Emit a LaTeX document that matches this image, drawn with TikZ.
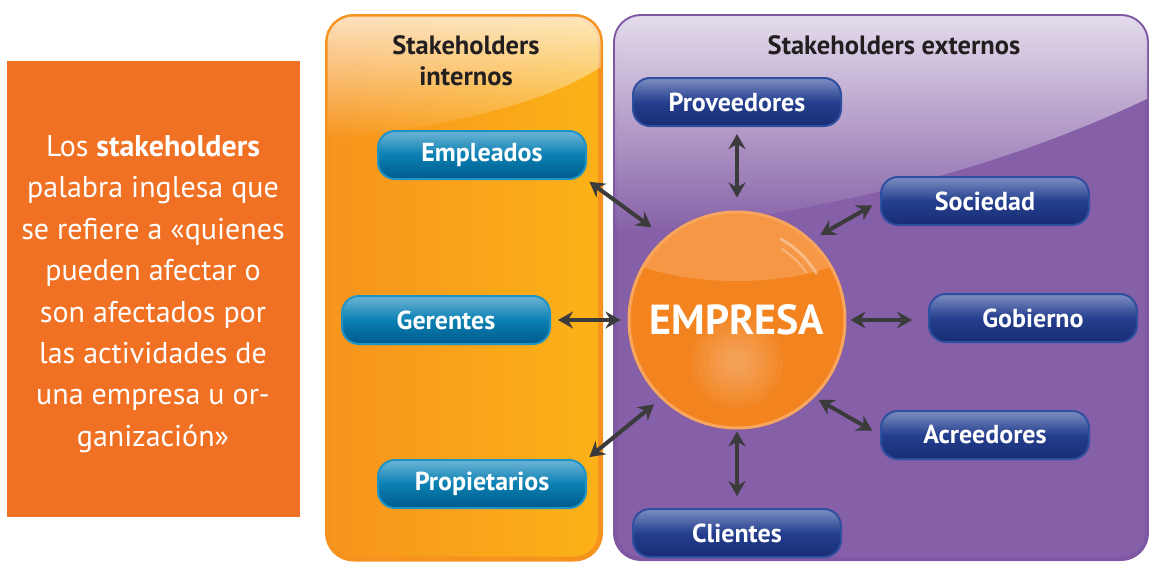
\documentclass[tikz,border=0pt]{standalone}
\usepackage{fontspec}
\setmainfont{PT Sans}
\usetikzlibrary{arrows.meta,fadings,positioning}

\definecolor{boxorange}{HTML}{F07124}
\definecolor{intborder}{HTML}{F6921E}
\definecolor{intleft}{HTML}{F7941D}
\definecolor{intright}{HTML}{FBB217}
\definecolor{extpurple}{HTML}{855FA7}
\definecolor{extborder}{HTML}{7F58A3}
\definecolor{btnblue}{HTML}{0A80B2}
\definecolor{btnbluetop}{HTML}{6DB4D6}
\definecolor{btnbluebot}{HTML}{005A8C}
\definecolor{btnblueline}{HTML}{1E93C6}
\definecolor{btnnavy}{HTML}{243F8E}
\definecolor{btnnavytop}{HTML}{7D8EC2}
\definecolor{btnnavybot}{HTML}{192C74}
\definecolor{btnnavyline}{HTML}{2E4FA0}
\definecolor{ballorange}{HTML}{F3831F}
\definecolor{ballrim}{HTML}{F8A55E}
\definecolor{arrowgray}{HTML}{3B3B3B}
\definecolor{titletext}{HTML}{231F20}

\tikzfading[name=glossfade, top color=transparent!0, bottom color=transparent!100]

\tikzset{
    btn/.style={rounded corners=17pt, minimum width=208pt, minimum height=48pt,
        line width=2pt, text=white, inner sep=0pt,
        font=\fontsize{26}{30}\selectfont\bfseries},
    intbtn/.style={btn, draw=btnblueline, top color=btnbluetop,
        bottom color=btnbluebot, middle color=btnblue},
    extbtn/.style={btn, draw=btnnavyline, top color=btnnavytop,
        bottom color=btnnavybot, middle color=btnnavy},
    link/.style={<->, >={Stealth[length=15pt, width=17pt, inset=5pt]},
        line width=4pt, draw=arrowgray},
    paneltitle/.style={text=titletext, align=center,
        font=\fontsize{26.5}{31}\selectfont\bfseries},
}

\begin{document}
\begin{tikzpicture}[x=1pt, y=-1pt]
\useasboundingbox (0,0) rectangle (1149,562);
\begin{scope}
    % Panels
    \draw[line width=5pt, draw=intborder, left color=intleft, right color=intright,
        rounded corners=26pt] (327.5,16.5) rectangle (600.5,559);
    \begin{scope}
        \clip[rounded corners=26pt] (327.5,16.5) rectangle (600.5,559);
        \fill[white, fill opacity=0.75, path fading=glossfade]
            (320,10) -- (610,10) -- (610,60)
            .. controls (560,100) and (450,128) .. (320,140) -- cycle;
    \end{scope}
    \draw[line width=4pt, draw=extborder, fill=extpurple,
        rounded corners=26pt] (615,16) rectangle (1147,559);
    \begin{scope}
        \clip[rounded corners=26pt] (615,16) rectangle (1147,559);
        \fill[white, fill opacity=0.8, path fading=glossfade]
            (610,10) -- (1155,10) -- (1155,95)
            .. controls (1000,170) and (820,215) .. (610,235) -- cycle;
    \end{scope}

    % Define nodes
    \node[fill=boxorange, minimum width=293pt, minimum height=456pt] (intro) at (153.5,289) {};
    \node[text=white, align=center, font=\fontsize{30}{41.4}\selectfont] (introtxt) at (153,294)
        {Los \textbf{stakeholders}\\palabra inglesa que\\se refiere a «quienes\\pueden afectar o\\son afectados por\\las actividades de\\una empresa u or-\\ganización»};

    \node[paneltitle] (inttitle) at (466,61) {Stakeholders\\internos};
    \node[paneltitle] (exttitle) at (894,45) {Stakeholders externos};

    \node[intbtn] (empleados) at (482,155) {Empleados};
    \node[intbtn] (gerentes) at (446,320) {Gerentes};
    \node[intbtn] (propietarios) at (482,484) {Propietarios};

    \node[extbtn] (proveedores) at (737,102) {Proveedores};
    \node[extbtn] (sociedad) at (985,201) {Sociedad};
    \node[extbtn] (gobierno) at (1033,318) {Gobierno};
    \node[extbtn] (acreedores) at (985,435) {Acreedores};
    \node[extbtn] (clientes) at (737,533) {Clientes};

    \node[circle, minimum size=216pt, inner sep=0pt, fill=ballorange, draw=ballrim,
        line width=3pt, text=white, font=\fontsize{42}{48}\selectfont\bfseries,
        path picture={
            \foreach \r in {46,40,34,28,22,16,10}
                \fill[white, fill opacity=0.045]
                    ([yshift=-42pt]path picture bounding box.center) circle (\r pt);
            \fill[white, fill opacity=0.17]
                ([yshift=89pt]path picture bounding box.center) ellipse (135pt and 50pt);
            \draw[white, line width=3pt, opacity=0.35]
                (path picture bounding box.center) ++(62:92pt) arc[start angle=62, end angle=30, radius=92pt];
            \draw[white, line width=2pt, opacity=0.3]
                (path picture bounding box.center) ++(58:84pt) arc[start angle=58, end angle=34, radius=84pt];
        }] (empresa) at (737,320) {EMPRESA};

    % Connectors
    \draw[link, shorten <=3pt, shorten >=17pt] (empleados.south east) -- (empresa.131);
    \draw[link, shorten <=7pt, shorten >=7pt] (gerentes.east) -- (empresa.west);
    \draw[link, shorten <=3pt, shorten >=9pt] (propietarios.north east) -- (empresa.226);
    \draw[link, shorten <=7pt, shorten >=13pt] (proveedores.south) -- (empresa.north);
    \draw[link, shorten <=10pt, shorten >=9pt] (empresa.47) -- (sociedad.west);
    \draw[link, shorten <=4pt, shorten >=16pt] (empresa.east) -- (empresa.east -| gobierno.west);
    \draw[link, shorten <=5pt, shorten >=9pt] (empresa.315) -- (acreedores.west);
    \draw[link, shorten <=2pt, shorten >=12pt] (empresa.south) -- (clientes.north);
\end{scope}
\end{tikzpicture}
\end{document}
